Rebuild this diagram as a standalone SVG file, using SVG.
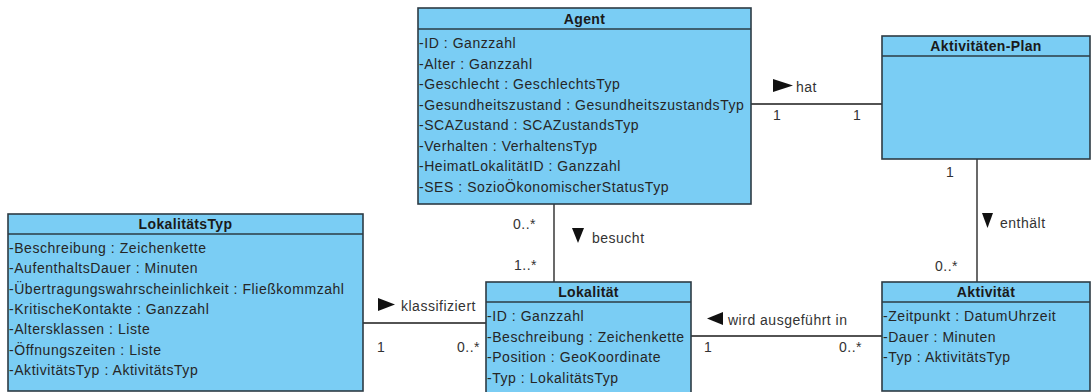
<svg xmlns="http://www.w3.org/2000/svg" width="1092" height="392" viewBox="0 0 1092 392">
<style>
.box{fill:#7acdf4;stroke:#2d3b44;stroke-width:1.6}
.sep{stroke:#2d3b44;stroke-width:1.4}
.t{font-family:"Liberation Sans",Arial,sans-serif;font-size:14px;font-weight:bold;fill:#1a1a1a;text-anchor:middle;letter-spacing:0.35px}
.a{font-family:"Liberation Sans",Arial,sans-serif;font-size:14px;fill:#262626;letter-spacing:0.55px}
.l{font-family:"Liberation Sans",Arial,sans-serif;font-size:14px;fill:#333;letter-spacing:0.5px}
.c{stroke:#1a1a1a;stroke-width:1.3;fill:none}
.tri{fill:#111}
</style>
<rect width="1092" height="392" fill="#fff"/>
<g id="connectors">
<line class="c" x1="751" y1="104" x2="882" y2="104"/>
<line class="c" x1="554" y1="204" x2="554" y2="282"/>
<line class="c" x1="977" y1="159" x2="977" y2="282"/>
<line class="c" x1="363" y1="323" x2="486" y2="323"/>
<line class="c" x1="691" y1="336" x2="882" y2="336"/>
<polygon class="tri" points="773,79 793,85.5 773,92"/>
<text class="l" x="796" y="92">hat</text>
<text class="l" x="773" y="120">1</text>
<text class="l" x="853" y="120">1</text>
<polygon class="tri" points="572,228 584,228 578,243"/>
<text class="l" x="592" y="243">besucht</text>
<text class="l" x="513" y="229">0..*</text>
<text class="l" x="514" y="270">1..*</text>
<polygon class="tri" points="982,213 993,213 987.5,228"/>
<text class="l" x="1000" y="228">enthält</text>
<text class="l" x="946" y="177">1</text>
<text class="l" x="935" y="271">0..*</text>
<polygon class="tri" points="378,298 395,304.5 378,311"/>
<text class="l" x="401" y="311">klassifiziert</text>
<text class="l" x="377" y="352">1</text>
<text class="l" x="457" y="352">0..*</text>
<polygon class="tri" points="723,312 707,318.5 723,325"/>
<text class="l" x="728" y="325">wird ausgeführt in</text>
<text class="l" x="704" y="352">1</text>
<text class="l" x="839" y="352">0..*</text>
</g>
<g id="agent">
<rect class="box" x="418" y="8" width="333" height="196"/>
<line class="sep" x1="418" y1="29" x2="751" y2="29"/>
<text class="t" x="584.5" y="24">Agent</text>
<text class="a" x="419" y="48">-ID : Ganzzahl</text>
<text class="a" x="419" y="68.5">-Alter : Ganzzahl</text>
<text class="a" x="419" y="89">-Geschlecht : GeschlechtsTyp</text>
<text class="a" x="419" y="109.5">-Gesundheitszustand : GesundheitszustandsTyp</text>
<text class="a" x="419" y="130">-SCAZustand : SCAZustandsTyp</text>
<text class="a" x="419" y="150.5">-Verhalten : VerhaltensTyp</text>
<text class="a" x="419" y="171">-HeimatLokalitätID : Ganzzahl</text>
<text class="a" x="419" y="191.5">-SES : SozioÖkonomischerStatusTyp</text>
</g>
<g id="aktivitaeten-plan">
<rect class="box" x="882" y="36" width="208" height="123"/>
<line class="sep" x1="882" y1="56" x2="1090" y2="56"/>
<text class="t" x="986" y="51">Aktivitäten-Plan</text>
</g>
<g id="lokalitaetstyp">
<rect class="box" x="8" y="214" width="355" height="177"/>
<line class="sep" x1="8" y1="234" x2="363" y2="234"/>
<text class="t" x="185.5" y="229">LokalitätsTyp</text>
<text class="a" x="9" y="253">-Beschreibung : Zeichenkette</text>
<text class="a" x="9" y="273.3">-AufenthaltsDauer : Minuten</text>
<text class="a" x="9" y="293.6">-Übertragungswahrscheinlichkeit : Fließkommzahl</text>
<text class="a" x="9" y="313.9">-KritischeKontakte : Ganzzahl</text>
<text class="a" x="9" y="334.2">-Altersklassen : Liste</text>
<text class="a" x="9" y="354.5">-Öffnungszeiten : Liste</text>
<text class="a" x="9" y="374.8">-AktivitätsTyp : AktivitätsTyp</text>
</g>
<g id="lokalitaet">
<rect class="box" x="486" y="282" width="205" height="115"/>
<line class="sep" x1="486" y1="302" x2="691" y2="302"/>
<text class="t" x="588.5" y="297">Lokalität</text>
<text class="a" x="487" y="321">-ID : Ganzzahl</text>
<text class="a" x="487" y="341.5">-Beschreibung : Zeichenkette</text>
<text class="a" x="487" y="362">-Position : GeoKoordinate</text>
<text class="a" x="487" y="382.5">-Typ : LokalitätsTyp</text>
</g>
<g id="aktivitaet">
<rect class="box" x="882" y="282" width="208" height="109"/>
<line class="sep" x1="882" y1="302" x2="1090" y2="302"/>
<text class="t" x="986" y="297">Aktivität</text>
<text class="a" x="883" y="321">-Zeitpunkt : DatumUhrzeit</text>
<text class="a" x="883" y="341.5">-Dauer :  Minuten</text>
<text class="a" x="883" y="362">-Typ : AktivitätsTyp</text>
</g>
</svg>
